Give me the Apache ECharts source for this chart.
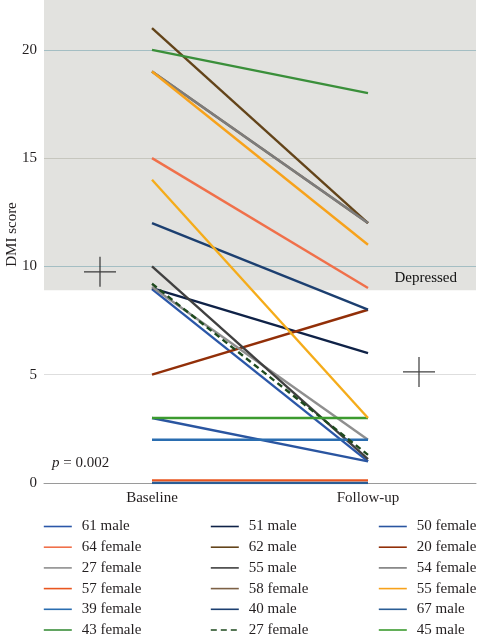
<!DOCTYPE html>
<html>
<head>
<meta charset="utf-8">
<script src="https://cdn.jsdelivr.net/npm/echarts@6/dist/echarts.min.js"></script>
<style>
html,body{margin:0;padding:0;background:#fff;}
#chart{width:484px;height:639px;}
</style>
</head>
<body>
<div id="chart"></div>
<script>
const categories = ['Baseline', 'Follow-up'];
const participants = ['61 male', '51 male', '50 female', '64 female', '62 male', '20 female',
  '27 female', '55 male', '54 female', '57 female', '58 female', '55 female',
  '39 female', '40 male', '67 male', '43 female', '27 female ', '45 male', '52 female'];
const baseline = [8.95, 9.0, 3.0, 15.0, 21.0, 5.0, 9.05, 10.0, 19.0, 0.12, 19.0, 19.0, 2.0, 12.0, 0.0, 20.0, 9.2, 3.0, 14.0];
const followUp = [1.0, 6.0, 1.0, 9.0, 12.0, 8.0, 2.0, 1.1, 12.0, 0.12, 12.0, 11.0, 2.0, 8.0, 0.0, 18.0, 1.3, 3.0, 3.0];
const meanValues = [9.75, 5.13];
const yTickValues = [0, 5, 10, 15, 20];
const depressedFrom = 8.9;
const yMax = 22.3;
const legendShown = participants.slice(0, 18);

const colors = ['#2b57a8', '#0f2247', '#2a55a0', '#f0704a', '#63441a', '#922f08',
  '#8f8f8f', '#404040', '#7c7c7c', '#e9561f', '#7d6145', '#f7a21b',
  '#2a6db0', '#1c3f70', '#2a5d95', '#3a8f3a', '#1e4a1e', '#3c9b2f', '#f5ac1a'];

const serif = "'Liberation Serif', 'DejaVu Serif', serif";
const txt = '#231f20';

const series = participants.map((name, i) => ({
  name: name,
  type: 'line',
  data: [baseline[i], followUp[i]],
  symbol: 'none',
  z: name === '58 female' ? 1 : 2,
  lineStyle: { color: colors[i], width: 2.4, type: name === '27 female ' ? [6, 4] : 'solid' },
  itemStyle: { color: colors[i] },
  animation: false
}));

series.push({
  type: 'line',
  data: [],
  z: -1,
  silent: true,
  markArea: {
    silent: true,
    z: -1,
    itemStyle: { color: '#e2e2df' },
    label: { show: true, position: 'insideBottomRight', color: '#111', fontFamily: serif, fontSize: 15, padding: [0, 14, 0, 0] },
    data: [[{ yAxis: depressedFrom, name: 'Depressed' }, { yAxis: yMax }]]
  },
  animation: false
});

const plusPath = 'path://M0,15L32,15M16,0L16,30';
series.push({
  type: 'scatter',
  silent: true,
  z: 5,
  symbol: plusPath,
  symbolSize: [32, 30],
  itemStyle: { color: 'none', borderColor: '#111', borderWidth: 1.2 },
  data: [
    { value: [categories[0], meanValues[0]], symbolOffset: [-52, 0] },
    { value: [categories[1], meanValues[1]], symbolOffset: [51, 0] }
  ],
  animation: false
});

const legendBase = {
  orient: 'vertical',
  top: 519,
  itemWidth: 28,
  itemHeight: 16,
  itemGap: 5.7,
  padding: 0,
  itemStyle: { opacity: 0 },
  lineStyle: { width: 1.6 },
  textStyle: { fontFamily: serif, fontSize: 15, color: txt, padding: [0, 0, 0, 5] },
  selectedMode: false
};
const cols = [[], [], []];
legendShown.forEach((n, i) => cols[i % 3].push(n));

const chart = echarts.init(document.getElementById('chart'));
chart.setOption({
  backgroundColor: '#fff',
  animation: false,
  grid: { left: 44, right: 8, top: 0, bottom: 156, containLabel: false, outerBoundsMode: 'none' },
  xAxis: {
    type: 'category',
    data: categories,
    boundaryGap: true,
    axisLine: { show: true, lineStyle: { color: '#9a9a9a', width: 1 } },
    axisTick: { show: false },
    axisLabel: { fontFamily: serif, fontSize: 15, color: txt, margin: 8 },
    splitLine: { show: false }
  },
  yAxis: {
    type: 'value',
    min: 0,
    max: yMax,
    interval: 5,
    name: 'DMI score',
    nameLocation: 'middle',
    nameGap: 24,
    nameMoveOverlap: false,
    nameTextStyle: { fontFamily: serif, fontSize: 15, color: txt, padding: [0, 0, 0, 14] },
    axisLine: { show: false },
    axisTick: { show: false },
    axisLabel: {
      fontFamily: serif, fontSize: 15, color: txt, margin: 7,
      formatter: v => (yTickValues.indexOf(v) >= 0 ? String(v) : '')
    },
    splitLine: { show: true, lineStyle: { color: ['#9a9a9a', '#dedede', '#a4bec3', '#c6c6be', '#a4bec3', 'rgba(0,0,0,0)'], width: 1 } }
  },
  legend: [
    Object.assign({}, legendBase, { left: 43, data: cols[0] }),
    Object.assign({}, legendBase, { left: 210, data: cols[1] }),
    Object.assign({}, legendBase, { left: 378, data: cols[2] })
  ],
  graphic: [{
    type: 'text',
    left: 52,
    top: 456,
    style: {
      text: '{i|p} = 0.002',
      font: '15px ' + serif,
      fill: txt,
      rich: { i: { fontStyle: 'italic', fontFamily: serif, fontSize: 15, fill: txt } }
    }
  }],
  series: series
});
</script>
</body>
</html>
